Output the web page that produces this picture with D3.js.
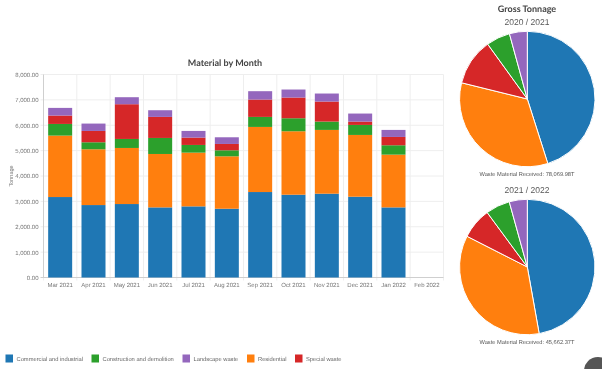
<!DOCTYPE html>
<html>
<head>
<meta charset="utf-8">
<script src="https://cdn.jsdelivr.net/npm/d3@7"></script>
<style>
	html, body { margin: 0; padding: 0; background: #fff; overflow: hidden; }
	svg { display: block; filter: blur(0.4px); }
	text { font-family: "Liberation Sans", Arial, sans-serif; text-rendering: geometricPrecision; }
	.title { font-family: Lato, sans-serif; font-weight: 700; fill: #444; }
</style>
</head>
<body>
<div id="wrapper"></div>
<script>
const months = ["Mar 2021", "Apr 2021", "May 2021", "Jun 2021", "Jul 2021", "Aug 2021", "Sep 2021", "Oct 2021", "Nov 2021", "Dec 2021", "Jan 2022", "Feb 2022"];
const commercial = [3171, 2855, 2895, 2763, 2803, 2710, 3368, 3263, 3303, 3184, 2763, 0];
const residential = [2421, 2198, 2210, 2105, 2118, 2066, 2566, 2500, 2513, 2434, 2079, 0];
const construction = [460, 276, 355, 632, 303, 237, 395, 513, 329, 395, 369, 0];
const special = [330, 447, 1369, 829, 289, 250, 684, 816, 789, 132, 328, 0];
const landscape = [302, 290, 276, 263, 263, 263, 329, 316, 316, 316, 277, 0];
const yTicks = [0, 1000, 2000, 3000, 4000, 5000, 6000, 7000, 8000];

const legendNames = ["Commercial and industrial", "Construction and demolition", "Landscape waste", "Residential", "Special waste"];
const legendKeys = ["commercial", "construction", "landscape", "residential", "special"];

const pieKeys = ["commercial", "residential", "special", "construction", "landscape"];
const pie2021 = [35210, 26350, 8740, 4450, 3320];
const pie2022 = [21550, 16120, 3380, 2650, 1962];

const colors = {
	commercial: "#1f77b4",
	residential: "#ff7f0e",
	construction: "#2ca02c",
	special: "#d62728",
	landscape: "#9467bd"
};

const svg = d3.select("#wrapper").append("svg")
	.attr("width", 602)
	.attr("height", 369);

const dimensions = { left: 43.5, right: 443.5, top: 74.5, bottom: 277.5 };

const xScale = d3.scaleBand()
	.domain(months)
	.range([dimensions.left, dimensions.right])
	.paddingInner(0.28)
	.paddingOuter(0.14);

const yScale = d3.scaleLinear()
	.domain([0, 8000])
	.range([dimensions.bottom, dimensions.top]);

// grid
const step = xScale.step();
const gridX = months.map((m, i) => dimensions.left + i * step).concat(dimensions.right);
svg.append("g").selectAll("line").data(gridX).join("line")
	.attr("x1", d => d).attr("x2", d => d)
	.attr("y1", dimensions.top).attr("y2", dimensions.bottom + 3)
	.attr("stroke", "#eeeeee");
svg.append("g").selectAll("line").data(yTicks).join("line")
	.attr("x1", dimensions.left - 3).attr("x2", dimensions.right)
	.attr("y1", d => yScale(d)).attr("y2", d => yScale(d))
	.attr("stroke", d => d === 0 ? "#cfcfcf" : "#eeeeee");
svg.append("line")
	.attr("x1", dimensions.left).attr("x2", dimensions.left)
	.attr("y1", dimensions.top).attr("y2", dimensions.bottom)
	.attr("stroke", "#cfcfcf");

// stacked bars
const table = months.map((m, i) => ({
	month: m,
	commercial: commercial[i],
	residential: residential[i],
	construction: construction[i],
	special: special[i],
	landscape: landscape[i]
}));
const stack = d3.stack().keys(["commercial", "residential", "construction", "special", "landscape"]);

svg.append("g").selectAll("g").data(stack(table)).join("g")
	.attr("fill", d => colors[d.key])
	.selectAll("rect").data(d => d).join("rect")
	.attr("x", d => xScale(d.data.month))
	.attr("width", xScale.bandwidth())
	.attr("y", d => yScale(d[1]))
	.attr("height", d => yScale(d[0]) - yScale(d[1]));

// axes
const yAxis = svg.append("g")
	.attr("transform", `translate(${dimensions.left},0)`)
	.call(d3.axisLeft(yScale).tickValues(yTicks).tickFormat(d3.format(",.2f")).tickSize(0).tickPadding(5));
const xAxis = svg.append("g")
	.attr("transform", `translate(0,${dimensions.bottom})`)
	.call(d3.axisBottom(xScale).tickSize(0).tickPadding(5));
yAxis.select(".domain").remove();
xAxis.select(".domain").remove();
svg.selectAll(".tick text")
	.attr("font-family", "Liberation Sans, sans-serif")
	.attr("font-size", 6)
	.attr("fill", "#777");

svg.append("text")
	.attr("transform", "translate(12.5,176) rotate(-90)")
	.attr("text-anchor", "middle")
	.attr("font-size", 5.5)
	.attr("fill", "#777")
	.text("Tonnage");

svg.append("text")
	.attr("class", "title")
	.attr("x", 225).attr("y", 66)
	.attr("text-anchor", "middle")
	.attr("font-size", 9)
	.text("Material by Month");

// pies
const pieGenerator = d3.pie().sort(null);
const arcGenerator = d3.arc().innerRadius(0).outerRadius(67.7);

function drawPie(values, cy) {
	const g = svg.append("g").attr("transform", `translate(527.3,${cy})`);
	g.selectAll("path").data(pieGenerator(values)).join("path")
		.attr("d", arcGenerator)
		.attr("fill", (d, i) => colors[pieKeys[i]])
		.attr("stroke", "#fff")
		.attr("stroke-width", 1);
}
drawPie(pie2021, 99);
drawPie(pie2022, 267);

svg.append("text").attr("class", "title")
	.attr("x", 527).attr("y", 12).attr("text-anchor", "middle").attr("font-size", 9)
	.text("Gross Tonnage");
[["2020 / 2021", 25], ["2021 / 2022", 193]].forEach(([label, y]) => {
	svg.append("text")
		.attr("x", 527).attr("y", y).attr("text-anchor", "middle")
		.attr("font-size", 8.5).attr("fill", "#555")
		.text(label);
});
[["Waste Material Received: 78,069.98T", 176], ["Waste Material Received: 45,662.37T", 344]].forEach(([label, y]) => {
	svg.append("text")
		.attr("x", 527).attr("y", y).attr("text-anchor", "middle")
		.attr("font-size", 5.7).attr("fill", "#555")
		.text(label);
});

// legend
const legendX = [5.5, 91.5, 182.5, 247, 295];
const legend = svg.append("g").selectAll("g").data(legendNames).join("g")
	.attr("transform", (d, i) => `translate(${legendX[i]},354.5)`);
legend.append("rect")
	.attr("width", 7.5).attr("height", 8)
	.attr("fill", (d, i) => colors[legendKeys[i]]);
legend.append("text")
	.attr("x", 11).attr("y", 6.2)
	.attr("font-size", 5.75).attr("fill", "#666")
	.text(d => d);

// help button cut off in the corner
svg.append("circle").attr("cx", 598).attr("cy", 371).attr("r", 14).attr("fill", "#555");
</script>
</body>
</html>
